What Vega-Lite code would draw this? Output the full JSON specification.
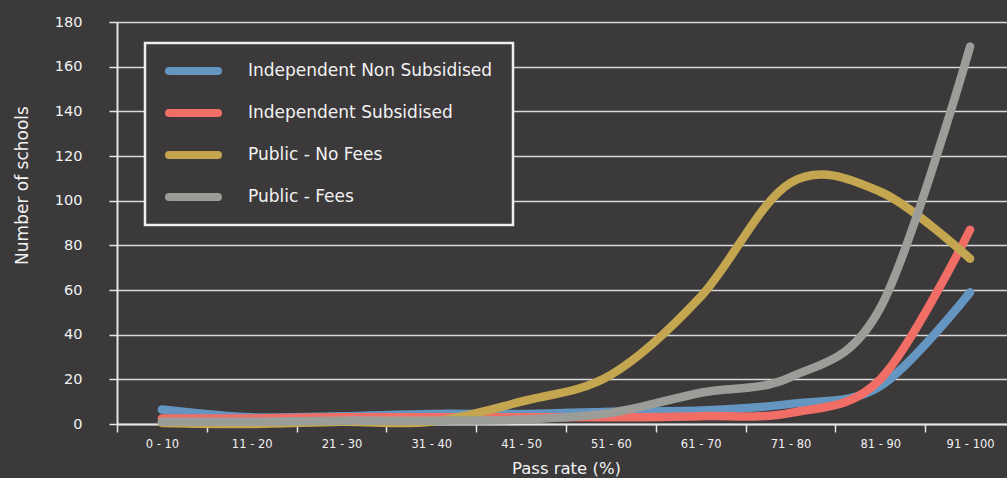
{
  "$schema": "https://vega.github.io/schema/vega-lite/v6.json",
  "width": 898,
  "height": 402,
  "autosize": {"type": "none"},
  "padding": {"left": 117, "top": 22, "right": 0, "bottom": 54},
  "background": "#3b393a",
  "config": {
    "view": {"stroke": null},
    "font": "DejaVu Sans",
    "axis": {"labelColor": "#f2f2f2", "titleColor": "#f2f2f2", "domainColor": "#e6e6e6", "tickColor": "#e6e6e6", "gridColor": "#d9d9d9"}
  },
  "data": {
    "values": [
      {"rate": "0 - 10", "type": "Independent Non Subsidised", "n": 6.5},
      {"rate": "11 - 20", "type": "Independent Non Subsidised", "n": 3},
      {"rate": "21 - 30", "type": "Independent Non Subsidised", "n": 3.5},
      {"rate": "31 - 40", "type": "Independent Non Subsidised", "n": 4.5},
      {"rate": "41 - 50", "type": "Independent Non Subsidised", "n": 4.5},
      {"rate": "51 - 60", "type": "Independent Non Subsidised", "n": 5.5},
      {"rate": "61 - 70", "type": "Independent Non Subsidised", "n": 6},
      {"rate": "71 - 80", "type": "Independent Non Subsidised", "n": 9},
      {"rate": "81 - 90", "type": "Independent Non Subsidised", "n": 17},
      {"rate": "91 - 100", "type": "Independent Non Subsidised", "n": 59},
      {"rate": "0 - 10", "type": "Independent Subsidised", "n": 2.5},
      {"rate": "11 - 20", "type": "Independent Subsidised", "n": 2.5},
      {"rate": "21 - 30", "type": "Independent Subsidised", "n": 3},
      {"rate": "31 - 40", "type": "Independent Subsidised", "n": 3},
      {"rate": "41 - 50", "type": "Independent Subsidised", "n": 3},
      {"rate": "51 - 60", "type": "Independent Subsidised", "n": 3},
      {"rate": "61 - 70", "type": "Independent Subsidised", "n": 3.5},
      {"rate": "71 - 80", "type": "Independent Subsidised", "n": 5},
      {"rate": "81 - 90", "type": "Independent Subsidised", "n": 20},
      {"rate": "91 - 100", "type": "Independent Subsidised", "n": 87},
      {"rate": "0 - 10", "type": "Public - No Fees", "n": 0.5},
      {"rate": "11 - 20", "type": "Public - No Fees", "n": 0},
      {"rate": "21 - 30", "type": "Public - No Fees", "n": 1},
      {"rate": "31 - 40", "type": "Public - No Fees", "n": 1},
      {"rate": "41 - 50", "type": "Public - No Fees", "n": 10},
      {"rate": "51 - 60", "type": "Public - No Fees", "n": 22},
      {"rate": "61 - 70", "type": "Public - No Fees", "n": 57},
      {"rate": "71 - 80", "type": "Public - No Fees", "n": 108},
      {"rate": "81 - 90", "type": "Public - No Fees", "n": 104},
      {"rate": "91 - 100", "type": "Public - No Fees", "n": 74},
      {"rate": "0 - 10", "type": "Public - Fees", "n": 1},
      {"rate": "11 - 20", "type": "Public - Fees", "n": 1},
      {"rate": "21 - 30", "type": "Public - Fees", "n": 1.5},
      {"rate": "31 - 40", "type": "Public - Fees", "n": 1.5},
      {"rate": "41 - 50", "type": "Public - Fees", "n": 2},
      {"rate": "51 - 60", "type": "Public - Fees", "n": 5},
      {"rate": "61 - 70", "type": "Public - Fees", "n": 14},
      {"rate": "71 - 80", "type": "Public - Fees", "n": 21},
      {"rate": "81 - 90", "type": "Public - Fees", "n": 52},
      {"rate": "91 - 100", "type": "Public - Fees", "n": 169}
    ]
  },
  "mark": {"type": "line", "interpolate": "cardinal", "strokeWidth": 8.5, "strokeCap": "round", "strokeJoin": "round"},
  "encoding": {
    "x": {
      "field": "rate", "type": "ordinal", "sort": null,
      "scale": {"type": "band", "paddingInner": 0, "paddingOuter": 0},
      "axis": {"title": "Pass rate (%)", "labelAngle": 0, "labelFontSize": 11.5, "labelPadding": 6, "tickSize": 8, "tickWidth": 1.5, "domainWidth": 2, "tickBand": "extent", "grid": false, "titleFontSize": 16.5, "titleFontWeight": "normal", "titlePadding": 11}
    },
    "y": {
      "field": "n", "type": "quantitative",
      "scale": {"domain": [0, 180], "nice": false},
      "axis": {"title": "Number of schools", "values": [0, 20, 40, 60, 80, 100, 120, 140, 160, 180], "labelFontSize": 14.5, "labelPadding": 27, "tickSize": 8, "tickWidth": 1.5, "domainWidth": 2, "gridWidth": 1.5, "titleFontSize": 17, "titleFontWeight": "normal", "titleAngle": -90, "titleX": -95, "titleY": 163, "titleAlign": "center", "titleBaseline": "middle"}
    },
    "color": {
      "field": "type", "type": "nominal",
      "scale": {"domain": ["Independent Non Subsidised", "Independent Subsidised", "Public - No Fees", "Public - Fees"], "range": ["#6496c1", "#f06e66", "#c3a64f", "#9b9d99"]},
      "legend": {"title": null, "orient": "none", "legendX": 28, "legendY": 21, "padding": 20, "strokeColor": "#eeeeee", "fillColor": "#3b393a", "symbolType": "stroke", "symbolSize": 2401, "symbolStrokeWidth": 8, "clipHeight": 16, "rowPadding": 25, "labelOffset": 26, "labelFontSize": 17, "labelColor": "#f2f2f2", "labelLimit": 400,
        "encode": {"legend": {"update": {"strokeWidth": {"value": 2.5}}}, "symbols": {"update": {"strokeCap": {"value": "round"}}}}}
    }
  }
}
